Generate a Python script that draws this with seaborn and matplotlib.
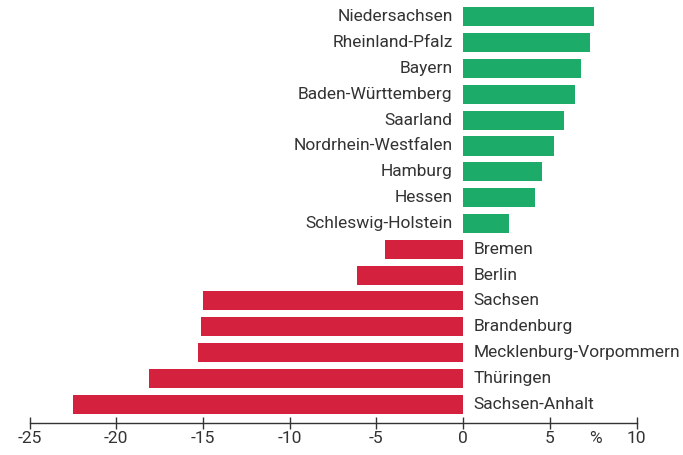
import matplotlib
matplotlib.use("Agg")
import matplotlib.pyplot as plt
import seaborn as sns
import pandas as pd

# Data (change in %)
states = ["Niedersachsen", "Rheinland-Pfalz", "Bayern", "Baden-Württemberg",
          "Saarland", "Nordrhein-Westfalen", "Hamburg", "Hessen",
          "Schleswig-Holstein", "Bremen", "Berlin", "Sachsen", "Brandenburg",
          "Mecklenburg-Vorpommern", "Thüringen", "Sachsen-Anhalt"]
values = [7.55, 7.3, 6.8, 6.45, 5.8, 5.25, 4.55, 4.15, 2.65,
          -4.5, -6.1, -15.0, -15.1, -15.3, -18.1, -22.5]
x_ticks = [-25, -20, -15, -10, -5, 0, 5, 10]

GREEN = "#1cab68"
RED = "#d4213d"
TEXT = "#333333"
FS = 12.5

sns.set_style("white")
plt.rcParams["font.family"] = ["Roboto", "DejaVu Sans"]

df = pd.DataFrame({"state": states, "value": values})
df["sign"] = ["pos" if v >= 0 else "neg" for v in df["value"]]

fig = plt.figure(figsize=(6.83, 4.55), dpi=100)
ax = fig.add_axes([0.0433, 0.0703, 0.932 - 0.0433, 0.921])

sns.barplot(data=df, y="state", x="value", hue="sign", orient="h",
            palette={"pos": GREEN, "neg": RED}, width=0.74,
            legend=False, ax=ax, saturation=1, linewidth=0, edgecolor="none")

# Labels next to the zero line
for i, (name, v) in enumerate(zip(states, values)):
    if v >= 0:
        ax.text(-0.6, i, name, ha="right", va="center", fontsize=FS, color=TEXT)
    else:
        ax.text(0.6, i, name, ha="left", va="center", fontsize=FS, color=TEXT)

ax.set_xlim(-25, 10)
ax.set_ylim(15.73, -0.5)
ax.set_xticks(x_ticks)
ax.set_xticklabels([str(t) for t in x_ticks], fontsize=FS, color=TEXT)
ax.set_yticks([])
ax.set_xlabel("")
ax.set_ylabel("")
for side in ["top", "right", "left"]:
    ax.spines[side].set_visible(False)
ax.spines["bottom"].set_color(TEXT)
ax.spines["bottom"].set_linewidth(1.0)
ax.tick_params(axis="x", bottom=True, direction="inout", length=9, width=1.0,
               color=TEXT, pad=1)

# Unit label between the last two ticks, on the tick-label baseline
ax.text(7.65, -0.019, "%", transform=ax.get_xaxis_transform(),
        ha="center", va="top", fontsize=FS, color=TEXT)

fig.savefig("out.png", dpi=100)
